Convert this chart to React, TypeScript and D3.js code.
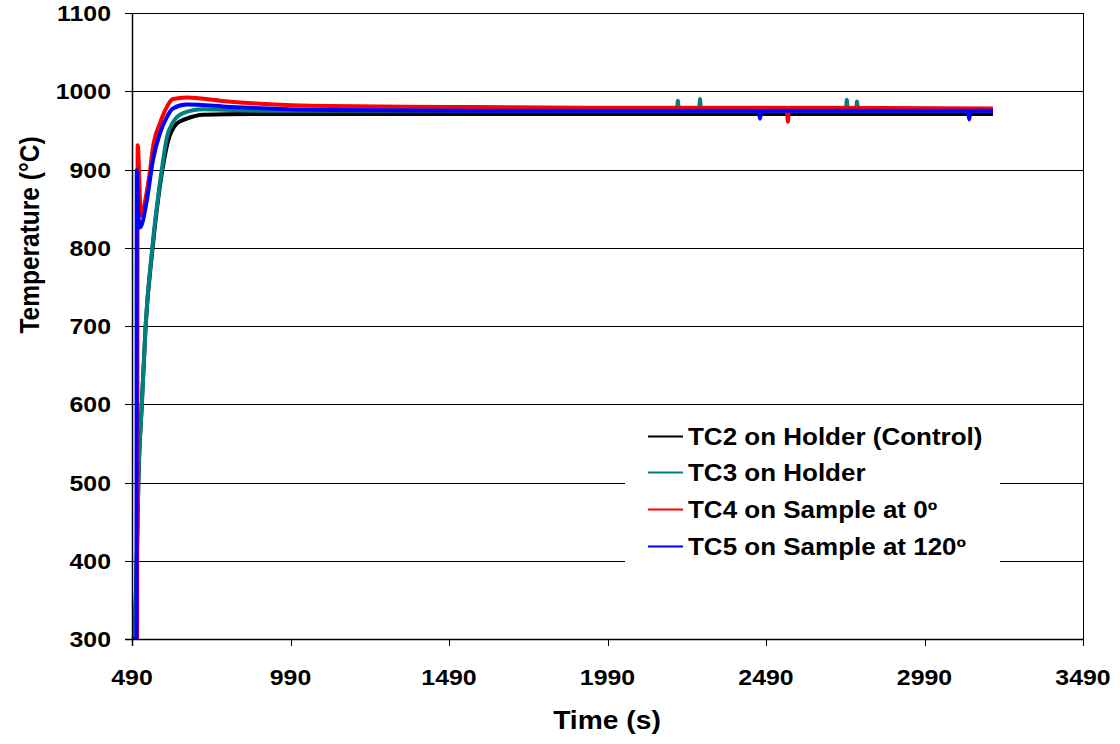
import React, { useEffect, useRef } from "react";
import * as d3 from "d3";

// axis ticks
const xTicks = [490, 990, 1490, 1990, 2490, 2990, 3490];
const yTicks = [300, 400, 500, 600, 700, 800, 900, 1000, 1100];

// TC2 on Holder (Control)
const tc2Time = [490, 497, 505, 510, 521, 533, 555, 586, 603, 632, 663, 714, 862, 1200, 1800, 2400, 3000, 3206];
const tc2Temp = [290, 300, 400, 500, 600, 700, 800, 900, 935, 959, 965, 970, 971, 971, 971, 971, 971, 971];

// TC3 on Holder
const tc3Time = [490, 497, 505, 510, 521, 533, 554, 584, 600, 619, 651, 714, 900, 1500, 2200, 2209, 2212, 2215, 2279, 2282, 2285, 2742, 2745, 2748, 2774, 2777, 2780, 3206];
const tc3Temp = [290, 300, 400, 500, 600, 700, 800, 900, 941, 960, 972, 977, 975, 975, 975, 975, 988, 975, 975, 990, 975, 975, 989, 975, 975, 987, 975, 975];

// TC4 on Sample at 0º
const tc4Time = [490, 506, 508, 518, 535, 547, 556, 578, 600, 619, 663, 768, 894, 1115, 1500, 1966, 2555, 2559, 2563, 3206];
const tc4Temp = [300, 300, 931, 841, 868, 899, 928, 959, 980, 990, 992, 988, 984, 981, 980, 979, 979, 961, 979, 978];

// TC5 on Sample at 120º
const tc5Time = [490, 504, 505, 509, 515, 537, 556, 578, 600, 619, 663, 799, 1115, 1800, 2467, 2471, 2475, 3127, 3131, 3135, 3206];
const tc5Temp = [300, 300, 899, 850, 826, 861, 912, 946, 967, 978, 983, 980, 976, 975, 975, 965, 975, 975, 964, 975, 975];

const seriesList = [
  { name: "TC2 on Holder (Control)", color: "#000000", time: tc2Time, temp: tc2Temp },
  { name: "TC3 on Holder", color: "#008080", time: tc3Time, temp: tc3Temp },
  { name: "TC4 on Sample at 0º", color: "#ff0000", time: tc4Time, temp: tc4Temp },
  { name: "TC5 on Sample at 120º", color: "#0000ff", time: tc5Time, temp: tc5Temp },
];

const FONT = "'Liberation Sans', Arial, sans-serif";
const STRETCH = 1.13; // the reference text is a bit wider than plain Arial

const TemperatureChart = () => {
  const svgRef = useRef(null);

  useEffect(() => {
    const width = 1120;
    const height = 744;
    const left = 132;
    const right = 1083;
    const top = 13;
    const bottom = 639;

    const svg = d3.select(svgRef.current).attr("width", width).attr("height", height);
    svg.selectAll("*").remove();

    const x = d3.scaleLinear().domain([490, 3490]).range([left, right]);
    const y = d3.scaleLinear().domain([300, 1100]).range([bottom, top]);

    svg.append("rect").attr("width", width).attr("height", height).attr("fill", "#fff");

    svg
      .append("clipPath")
      .attr("id", "plot-clip")
      .append("rect")
      .attr("x", left)
      .attr("y", top)
      .attr("width", right - left)
      .attr("height", bottom - top);

    // horizontal gridlines
    svg
      .append("g")
      .selectAll("line")
      .data(yTicks)
      .join("line")
      .attr("x1", left)
      .attr("x2", right)
      .attr("y1", (d) => Math.round(y(d)) + 0.5)
      .attr("y2", (d) => Math.round(y(d)) + 0.5)
      .attr("stroke", "#000")
      .attr("stroke-width", 1);

    // right border
    svg
      .append("line")
      .attr("x1", right + 0.5)
      .attr("x2", right + 0.5)
      .attr("y1", top)
      .attr("y2", bottom)
      .attr("stroke", "#000");

    // data lines
    const line = d3
      .line()
      .x((d) => x(d[0]))
      .y((d) => y(d[1]))
      .curve(d3.curveMonotoneX);

    const dataGroup = svg.append("g").attr("clip-path", "url(#plot-clip)");
    seriesList.forEach((s) => {
      const pts = s.time.map((t, i) => [t, s.temp[i]]);
      dataGroup
        .append("path")
        .attr("d", line(pts))
        .attr("fill", "none")
        .attr("stroke", s.color)
        .attr("stroke-width", 4)
        .attr("stroke-linejoin", "round");
    });

    const label = (g, px, py, txt, size, anchor) =>
      g
        .append("text")
        .attr("transform", `translate(${px},${py}) scale(${STRETCH},1)`)
        .attr("text-anchor", anchor)
        .attr("font-family", FONT)
        .attr("font-weight", "bold")
        .attr("font-size", size)
        .text(txt);

    // y axis
    const yAxis = svg.append("g");
    yAxis
      .append("line")
      .attr("x1", left + 0.5)
      .attr("x2", left + 0.5)
      .attr("y1", top)
      .attr("y2", bottom + 7)
      .attr("stroke", "#000")
      .attr("stroke-width", 1.5);
    yAxis
      .selectAll("line.tick")
      .data(yTicks)
      .join("line")
      .attr("class", "tick")
      .attr("x1", left - 7)
      .attr("x2", left)
      .attr("y1", (d) => Math.round(y(d)) + 0.5)
      .attr("y2", (d) => Math.round(y(d)) + 0.5)
      .attr("stroke", "#000");
    yTicks.forEach((d) => label(yAxis, 111, y(d) + 8, d, 22, "end"));

    // x axis
    const xAxis = svg.append("g");
    xAxis
      .append("line")
      .attr("x1", left - 7)
      .attr("x2", right)
      .attr("y1", bottom + 0.5)
      .attr("y2", bottom + 0.5)
      .attr("stroke", "#000")
      .attr("stroke-width", 1.5);
    xAxis
      .selectAll("line.tick")
      .data(xTicks)
      .join("line")
      .attr("class", "tick")
      .attr("x1", (d) => Math.round(x(d)) + 0.5)
      .attr("x2", (d) => Math.round(x(d)) + 0.5)
      .attr("y1", bottom)
      .attr("y2", bottom + 7)
      .attr("stroke", "#000");
    xTicks.forEach((d) => label(xAxis, x(d), 685, d, 22, "middle"));

    // axis titles
    label(svg, 607, 729, "Time (s)", 25, "middle");

    svg
      .append("text")
      .attr("transform", `translate(39,235) rotate(-90) scale(1,${STRETCH})`)
      .attr("text-anchor", "middle")
      .attr("font-family", FONT)
      .attr("font-weight", "bold")
      .attr("font-size", 24.5)
      .text("Temperature (°C)");

    // legend
    const legend = svg.append("g");
    legend
      .append("rect")
      .attr("x", 625)
      .attr("y", 416)
      .attr("width", 375)
      .attr("height", 158)
      .attr("fill", "#fff");
    const rowY = [436, 472, 509, 546];
    seriesList.forEach((s, i) => {
      legend
        .append("line")
        .attr("x1", 648)
        .attr("x2", 683)
        .attr("y1", rowY[i] + 0.5)
        .attr("y2", rowY[i] + 0.5)
        .attr("stroke", s.color)
        .attr("stroke-width", 2);
      label(legend, 688, rowY[i] + 8.5, s.name, 23, "start");
    });
  }, []);

  return <svg ref={svgRef} style={{ display: "block" }}></svg>;
};

export default function App() {
  return (
    <div style={{ position: "absolute", left: 0, top: 0 }}>
      <TemperatureChart />
    </div>
  );
}
